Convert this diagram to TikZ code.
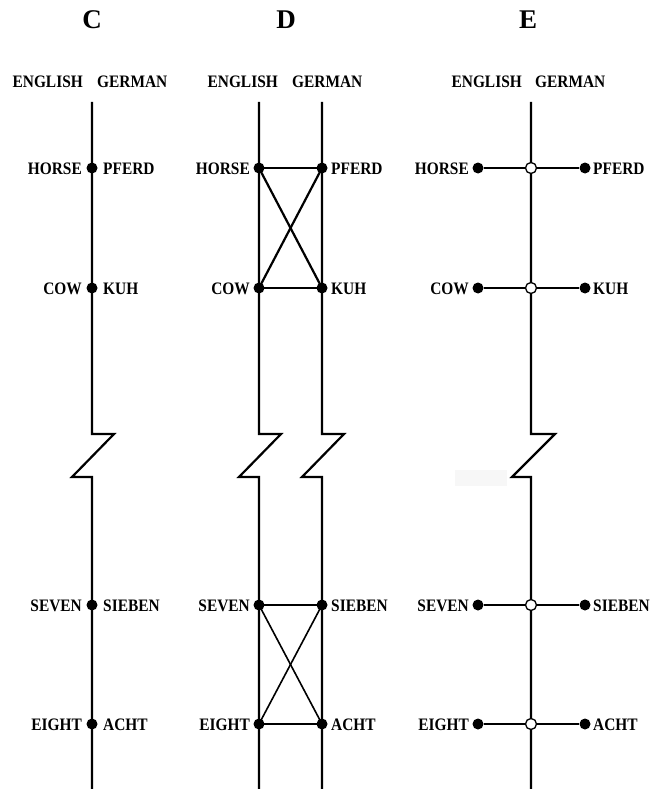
\documentclass[tikz,border=0pt]{standalone}
\usepackage{fontspec}
\setmainfont{Liberation Serif}
\newfontfamily\lblfont[FakeStretch=0.88]{Liberation Serif}
\begin{document}
\begin{tikzpicture}[x=1pt,y=-1pt,
  dot/.style={circle, fill=black, inner sep=0pt, minimum size=11pt},
  hollow/.style={circle, draw=black, fill=white, line width=1.3pt, inner sep=0pt, minimum size=11pt},
  lbl/.style={font=\lblfont\bfseries\fontsize{17.5}{17.5}\selectfont, inner sep=0pt},
  lblL/.style={lbl, anchor=base east},
  lblR/.style={lbl, anchor=base west},
  ttl/.style={font=\bfseries\fontsize{27}{27}\selectfont, inner sep=0pt, anchor=base},
  mainline/.style={line width=2.2pt, line join=miter},
  link/.style={line width=1.4pt},
  cross/.style={line width=2.2pt}]
\useasboundingbox (0,0) rectangle (664,789);
\fill[black!3] (455,470) rectangle (507,486);
% titles
\node[ttl] (tC) at (92,29) {C};
\node[ttl] (tD) at (286,29) {D};
\node[ttl] (tE) at (528,29) {E};
% headers
\node[lblL] (hCe) at (83,88) {ENGLISH};
\node[lblR] (hCg) at (97,88) {GERMAN};
\node[lblL] (hDe) at (278,88) {ENGLISH};
\node[lblR] (hDg) at (292,88) {GERMAN};
\node[lblL] (hEe) at (522,88) {ENGLISH};
\node[lblR] (hEg) at (535,88) {GERMAN};
% ===== Panel C
\coordinate (Ca) at (92,102); \coordinate (Cb) at (92,434); \coordinate (Cc) at (114,434);
\coordinate (Cd) at (72,477); \coordinate (Ce) at (92,477); \coordinate (Cf) at (92,789);
\draw[mainline] (Ca) -- (Cb) -- (Cc) -- (Cd) -- (Ce) -- (Cf);
\foreach \n/\y/\e/\g in {1/168/HORSE/PFERD, 2/288/COW/KUH, 3/605/SEVEN/SIEBEN, 4/724/EIGHT/ACHT} {
  \node[dot] (C\n) at (92,\y) {};
  \node[lblL] (Ce\n) at (82,\y+6) {\e};
  \node[lblR] (Cg\n) at (103,\y+6) {\g};
}
% ===== Panel D
\coordinate (DLa) at (259,102); \coordinate (DLb) at (259,434); \coordinate (DLc) at (281,434);
\coordinate (DLd) at (239,477); \coordinate (DLe) at (259,477); \coordinate (DLf) at (259,789);
\coordinate (DRa) at (322,102); \coordinate (DRb) at (322,434); \coordinate (DRc) at (344,434);
\coordinate (DRd) at (302,477); \coordinate (DRe) at (322,477); \coordinate (DRf) at (322,789);
\draw[mainline] (DLa) -- (DLb) -- (DLc) -- (DLd) -- (DLe) -- (DLf);
\draw[mainline] (DRa) -- (DRb) -- (DRc) -- (DRd) -- (DRe) -- (DRf);
\foreach \n/\y in {1/168, 2/288, 3/605, 4/724} {
  \coordinate (DL\n) at (259,\y);
  \coordinate (DR\n) at (322,\y);
}
\draw[link] (DL1) -- (DR1); \draw[link] (DL2) -- (DR2);
\draw[link] (DL3) -- (DR3); \draw[link] (DL4) -- (DR4);
\draw[cross] (DL1) -- (DR2); \draw[cross] (DR1) -- (DL2);
\draw[cross, line width=1.6pt] (DL3) -- (DR4); \draw[cross, line width=1.6pt] (DR3) -- (DL4);
\foreach \n/\y/\e/\g in {1/168/HORSE/PFERD, 2/288/COW/KUH, 3/605/SEVEN/SIEBEN, 4/724/EIGHT/ACHT} {
  \node[dot] (DdL\n) at (DL\n) {};
  \node[dot] (DdR\n) at (DR\n) {};
  \node[lblL] (De\n) at (250,\y+6) {\e};
  \node[lblR] (Dg\n) at (331,\y+6) {\g};
}
% ===== Panel E
\coordinate (Ea) at (531,102); \coordinate (Eb) at (531,434); \coordinate (Ec) at (555,434);
\coordinate (Ed) at (512,477); \coordinate (Ee) at (531,477); \coordinate (Ef) at (531,789);
\draw[mainline] (Ea) -- (Eb) -- (Ec) -- (Ed) -- (Ee) -- (Ef);
\foreach \n/\y/\e/\g in {1/168/HORSE/PFERD, 2/288/COW/KUH, 3/605/SEVEN/SIEBEN, 4/724/EIGHT/ACHT} {
  \node[dot] (EL\n) at (478,\y) {};
  \node[dot] (ER\n) at (585,\y) {};
  \node[hollow] (EC\n) at (531,\y) {};
  \draw[link] (EL\n) -- (EC\n);
  \draw[link] (EC\n) -- (ER\n);
  \node[lblL] (Ee\n) at (469,\y+6) {\e};
  \node[lblR] (Eg\n) at (593,\y+6) {\g};
}
\end{tikzpicture}
\end{document}
